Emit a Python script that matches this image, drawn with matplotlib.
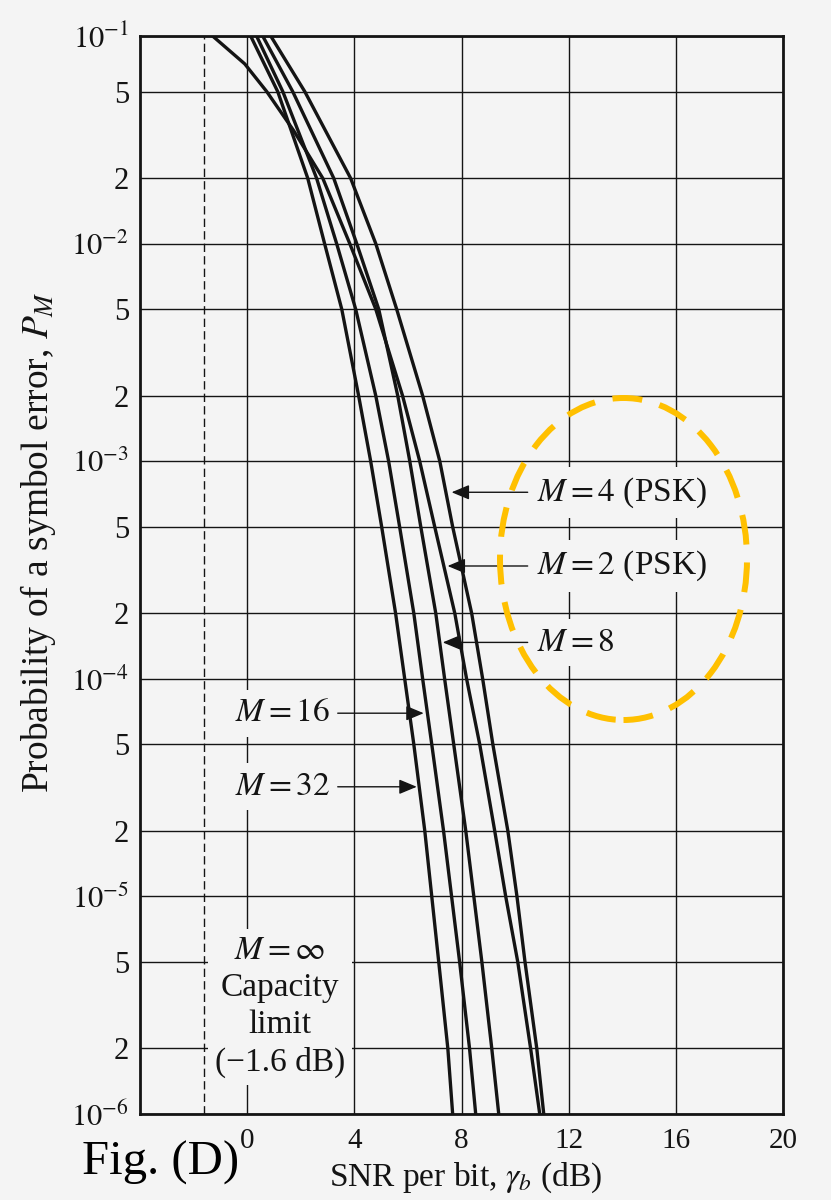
import matplotlib
matplotlib.use('Agg')
import matplotlib.pyplot as plt
from matplotlib.patches import Ellipse

plt.rcParams['font.family'] = ['Liberation Serif', 'DejaVu Serif']
plt.rcParams['mathtext.fontset'] = 'stix'

# symbol error levels at which the curves were read (top value = upper frame)
pm_levels = [0.09, 5e-2, 2e-2, 1e-2, 5e-3, 2e-3, 1e-3, 5e-4, 2e-4, 1e-4,
             5e-5, 2e-5, 1e-5, 5e-6, 2e-6, 1e-6]
# the M = 2 curve bends more near the top, so it was read at two extra levels
pm_levels_m2 = [0.09, 0.067, 5e-2, 0.033, 2e-2, 1e-2, 5e-3, 2e-3, 1e-3, 5e-4,
                2e-4, 1e-4, 5e-5, 2e-5, 1e-5, 5e-6, 2e-6, 1e-6]

# SNR per bit (dB) of each curve at those levels
snr_m2 = [-1.29, -0.09, 0.73, 1.74, 2.82, 3.83, 4.80, 5.80, 6.44, 7.00, 7.75, 8.19,
          8.68, 9.24, 9.65, 10.10, 10.58, 10.92]
snr_m4 = [0.88, 2.15, 3.86, 4.80, 5.58, 6.55, 7.19, 7.67, 8.38, 8.79, 9.17, 9.73,
          10.07, 10.37, 10.81, 11.07]
snr_m8 = [0.58, 1.70, 3.23, 4.09, 4.91, 5.62, 6.07, 6.48, 7.04, 7.37, 7.71, 8.16,
          8.46, 8.76, 9.13, 9.39]
snr_m16 = [0.35, 1.33, 2.59, 3.34, 4.05, 4.80, 5.28, 5.69, 6.22, 6.55, 6.89, 7.33,
           7.63, 7.93, 8.30, 8.53]
snr_m32 = [0.13, 1.14, 2.26, 2.89, 3.53, 4.16, 4.61, 5.02, 5.54, 5.88, 6.22, 6.63,
           6.89, 7.15, 7.49, 7.67]

capacity_limit = -1.6

x_ticks = [0, 4, 8, 12, 16, 20]
y_ticks = [0.09, 5e-2, 2e-2, 1e-2, 5e-3, 2e-3, 1e-3, 5e-4, 2e-4, 1e-4,
           5e-5, 2e-5, 1e-5, 5e-6, 2e-6, 1e-6]
y_labels = [r'$10^{-1}$', '5', '2', r'$10^{-2}$', '5', '2', r'$10^{-3}$', '5', '2',
            r'$10^{-4}$', '5', '2', r'$10^{-5}$', '5', '2', r'$10^{-6}$']

BG = '#f4f4f4'
INK = '#141414'

fig = plt.figure(figsize=(8.31, 12), dpi=100, facecolor=BG)

ax = fig.add_axes([140 / 831, 1 - 1114 / 1200, 643 / 831, 1078 / 1200])
ax.set_facecolor('none')
ax.set_yscale('log')
ax.set_xlim(-4, 20)
ax.set_ylim(1e-6, 0.09)

ax.set_xticks(x_ticks)
ax.set_xticklabels([str(t) for t in x_ticks])
ax.set_yticks(y_ticks)
ax.set_yticklabels(y_labels)
ax.minorticks_off()
ax.tick_params(length=0, colors=INK)
ax.tick_params(axis='y', labelsize=22, pad=8)
ax.tick_params(axis='x', labelsize=21, pad=10)
ax.grid(True, color=INK, lw=1.0, zorder=1)
ax.set_axisbelow(True)
for sp in ax.spines.values():
    sp.set_linewidth(2.0)
    sp.set_color(INK)

ax.axvline(capacity_limit, color=INK, lw=1.0, ls=(0, (6, 3)), zorder=2)

ax.plot(snr_m2, pm_levels_m2, color=INK, lw=2.4, solid_joinstyle='round', zorder=4)
for snr in [snr_m4, snr_m8, snr_m16, snr_m32]:
    ax.plot(snr, pm_levels, color=INK, lw=2.4, solid_joinstyle='round', zorder=4)

box = dict(boxstyle='square,pad=0.25', fc=BG, ec='none')
arrow = dict(arrowstyle='-|>,head_length=0.6,head_width=0.25', color=INK,
             lw=1.0, mutation_scale=18, shrinkA=0, shrinkB=0)

# labels on the right, arrows pointing left
for txt, yv, tip in [(r'$M = 4$ (PSK)', 7.2e-4, 7.63),
                     (r'$M = 2$ (PSK)', 3.3e-4, 7.48),
                     (r'$M = 8$', 1.47e-4, 7.30)]:
    ax.text(10.8, yv, txt, fontsize=24, color=INK, ha='left', va='center',
            bbox=box, zorder=3)
    ax.annotate('', xy=(tip, yv), xytext=(10.47, yv), arrowprops=arrow, zorder=5)

# labels on the left, arrows pointing right
for txt, yv, tip in [(r'$M = 16$', 6.95e-5, 6.59),
                     (r'$M = 32$', 3.19e-5, 6.33)]:
    ax.text(3.1, yv, txt, fontsize=24, color=INK, ha='right', va='center',
            bbox=box, zorder=3)
    ax.annotate('', xy=(tip, yv), xytext=(3.38, yv), arrowprops=arrow, zorder=5)

ax.text(1.22, 3.1e-6, '$M = \\infty$\nCapacity\nlimit\n(\u22121.6 dB)', fontsize=24,
        color=INK, ha='center', va='center', linespacing=1.28,
        bbox=dict(boxstyle='square,pad=0.2', fc=BG, ec='none'), zorder=3)

fig.text(38 / 831, 1 - 542 / 1200, r'Probability of a symbol error, $P_M$',
         rotation=90, fontsize=27, color=INK, ha='center', va='center')
fig.text(466 / 831, 1 - 1178 / 1200, r'SNR per bit, $\gamma_b$ (dB)',
         fontsize=24, color=INK, ha='center', va='center')
fig.text(82 / 831, 1 - 1163 / 1200, 'Fig. (D)', fontsize=35, color='black',
         ha='left', va='center')

ring = Ellipse((623.5 / 831, 1 - 559 / 1200), 247 / 831, 322 / 1200,
               transform=fig.transFigure, fill=False, ec='#FFC000', lw=4.3,
               ls=(0, (5, 3)), zorder=10)
fig.add_artist(ring)

fig.savefig('out.png', dpi=100, facecolor=BG)
